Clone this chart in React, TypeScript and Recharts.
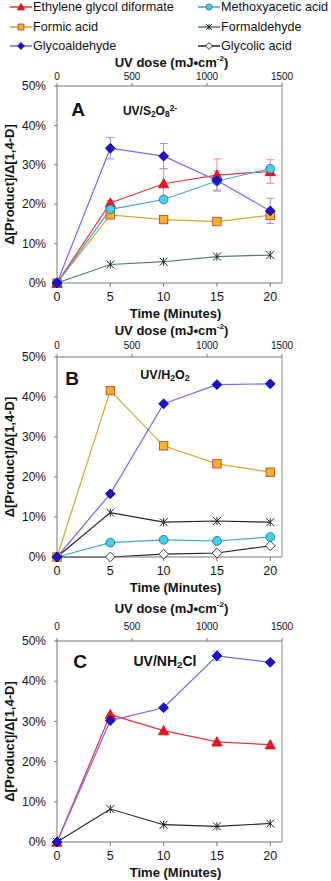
import React from 'react';
import { LineChart, Line, XAxis, YAxis, ReferenceLine, ErrorBar } from 'recharts';

// time points (min) and axis ticks
const TIME = [0, 5, 10, 15, 20];
const DOSE_TICKS = [0, 500, 1000, 1500];
const PCT_TICKS = [0, 10, 20, 30, 40, 50];
const TIME_MAX = 21.1; // right edge of the plots
const DOSE_RATE = 1500 / TIME_MAX; // mJ/cm2 per minute, top axis

// Panel A: UV/S2O8 2-
const A_FORMALD = [0, 4.7, 5.4, 6.7, 7.1];
const A_FORMIC = [0, 17.3, 16.1, 15.6, 17.2];
const A_EGD = [0, 20.3, 25.2, 27.4, 28.3];
const A_EGD_ERR = [0, 0.6, 3.8, 4.1, 3.0];
const A_METHOXY = [0, 18.7, 21.2, 25.9, 29.0];
const A_GLYCOALD = [0, 34.2, 32.2, 26.0, 18.3];
const A_GLYCOALD_ERR = [0, 2.7, 3.2, 2.4, 3.2];

// Panel B: UV/H2O2
const B_GLYCOLIC = [0, 0, 0.7, 1.0, 2.8];
const B_METHOXY = [0, 3.6, 4.3, 4.0, 5.0];
const B_FORMALD = [0, 11.1, 8.7, 9.0, 8.7];
const B_FORMIC = [0, 41.6, 27.8, 23.3, 21.2];
const B_GLYCOALD = [0, 15.8, 38.3, 43.1, 43.3];

// Panel C: UV/NH2Cl
const C_FORMALD = [0, 8.2, 4.3, 3.9, 4.6];
const C_EGD = [0, 31.7, 27.7, 24.9, 24.2];
const C_GLYCOALD = [0, 30.2, 33.4, 46.3, 44.7];
const C_GLYCOALD_ERR = [0, 0, 0, 1.2, 0];

const STYLE: Record<string, { name: string; line: string; marker: string }> = {
  egd: { name: 'Ethylene glycol diformate', line: '#e3343c', marker: 'triangle' },
  methoxy: { name: 'Methoxyacetic acid', line: '#3fa2e0', marker: 'circle' },
  formic: { name: 'Formic acid', line: '#d6a42c', marker: 'square' },
  formald: { name: 'Formaldehyde', line: '#4d7a6c', marker: 'star' },
  glycoald: { name: 'Glycoaldehyde', line: '#7d62f2', marker: 'diamond' },
  glycolic: { name: 'Glycolic acid', line: '#222222', marker: 'open' }
};

const LEGEND_ROWS = [
  ['egd', 'methoxy'],
  ['formic', 'formald'],
  ['glycoald', 'glycolic']
];

const FONT = "'Liberation Sans', Arial, sans-serif";

function Marker({ kind, cx, cy, k = 1 }: any) {
  if (cx == null || cy == null) return null;
  if (kind === 'triangle') {
    const s = 5.2 * k;
    return <polygon points={`${cx},${cy - s} ${cx + s},${cy + s * 0.8} ${cx - s},${cy + s * 0.8}`} fill="#ec1620" stroke="#c0101a" strokeWidth={0.8} />;
  }
  if (kind === 'circle') {
    return <circle cx={cx} cy={cy} r={4.4 * k} fill="#41d3ea" stroke="#2d6f8c" strokeWidth={0.9} />;
  }
  if (kind === 'square') {
    const s = 4.2 * k;
    return <rect x={cx - s} y={cy - s} width={s * 2} height={s * 2} fill="#f6b328" stroke="#b04a3a" strokeWidth={0.9} />;
  }
  if (kind === 'diamond' || kind === 'open') {
    const s = 4.9 * k;
    return (
      <polygon
        points={`${cx},${cy - s} ${cx + s},${cy} ${cx},${cy + s} ${cx - s},${cy}`}
        fill={kind === 'open' ? '#ffffff' : '#1a12d8'}
        stroke={kind === 'open' ? '#222' : '#0c0c50'}
        strokeWidth={0.9} />);

  }
  const s = 4 * k;
  return (
    <g stroke="#222" strokeWidth={1}>
      <line x1={cx - s} y1={cy - s} x2={cx + s} y2={cy + s} />
      <line x1={cx - s} y1={cy + s} x2={cx + s} y2={cy - s} />
      <line x1={cx} y1={cy - s} x2={cx} y2={cy + s} />
    </g>);

}

function BottomTitle(props: any) {
  const { viewBox, dist } = props;
  const cx = viewBox.x + viewBox.width / 2 + 6;
  return (
    <text x={cx} y={viewBox.y + dist} textAnchor="middle" dominantBaseline="central" fontWeight="bold" fontSize={13} fill="#111">
      Time (Minutes)
    </text>);

}

function TopTitle(props: any) {
  const { viewBox, gap } = props;
  const cx = viewBox.x + viewBox.width / 2 + 2;
  return (
    <text x={cx} y={viewBox.y + viewBox.height - gap} textAnchor="middle" dominantBaseline="central" fontWeight="bold" fontSize={13} fill="#111">
      UV dose (mJ•cm<tspan fontSize={8} dy={-4}>-2</tspan><tspan dy={4}>)</tspan>
    </text>);

}

function YTitle(props: any) {
  const { viewBox } = props;
  const cx = 9;
  const cy = viewBox.y + viewBox.height / 2;
  return (
    <text x={cx} y={cy} transform={`rotate(-90 ${cx} ${cy})`} textAnchor="middle" dominantBaseline="central" fontWeight="bold" fontSize={13} fill="#111">
      Δ[Product]/Δ[1,4-D]
    </text>);

}

type Series = { key: string; values: number[]; err?: number[]; errColor?: string; line?: string };

function buildRows(series: Series[]) {
  return TIME.map((t, i) => {
    const r: any = { t };
    series.forEach((s) => {
      r[s.key] = s.values[i];
      if (s.err) r[s.key + 'Err'] = s.err[i];
    });
    return r;
  });
}

function Panel({ plotTop, titleGap, topGap, plotH, series, letter, letterPos, cond, condPos, condSize }: any) {
  const topH = titleGap + 12;
  const bottomH = 38;
  const top = plotTop - topH;
  const height = topH + plotH + bottomH;
  const rows = buildRows(series);
  return (
    <div style={{ position: 'absolute', left: 0, top, width: 331, height }}>
      <LineChart width={331} height={height} data={rows} margin={{ top: 0, right: 49, bottom: 0, left: 0 }}>
        <XAxis
          xAxisId="top"
          type="number"
          dataKey="t"
          orientation="top"
          domain={[0, TIME_MAX]}
          ticks={DOSE_TICKS.map((d) => d / DOSE_RATE)}
          tickFormatter={(v) => `${Math.round(v * DOSE_RATE)}`}
          interval={0}
          height={topH}
          stroke="#777"
          tickSize={3}
          tickMargin={topGap}
          tick={{ fill: '#111', fontSize: 10 }}
          label={<TopTitle gap={titleGap} />} />

        <XAxis
          xAxisId="time"
          type="number"
          dataKey="t"
          orientation="bottom"
          domain={[0, TIME_MAX]}
          ticks={TIME}
          interval={0}
          height={bottomH}
          stroke="#777"
          tickSize={4}
          tickMargin={5}
          tick={{ fill: '#111', fontSize: 12.5 }}
          label={<BottomTitle dist={30} />} />

        <YAxis
          type="number"
          domain={[0, 50]}
          ticks={PCT_TICKS}
          width={57}
          stroke="#777"
          tickSize={3}
          tickMargin={8}
          tick={{ fill: '#111', fontSize: 12 }}
          tickFormatter={(v) => `${v}%`}
          label={<YTitle />} />

        <ReferenceLine xAxisId="time" x={TIME_MAX} stroke="#888" />
        {/* invisible copy so the top (dose) axis gets a scale */}
        <Line xAxisId="top" dataKey={series[0].key} stroke="none" dot={false} activeDot={false} isAnimationActive={false} legendType="none" />
        {series.map((s: Series) =>
        <Line
          key={s.key}
          xAxisId="time"
          dataKey={s.key}
          stroke={s.line ?? STYLE[s.key].line}
          strokeWidth={1.2}
          activeDot={false}
          isAnimationActive={false}
          dot={(p: any) => <Marker key={`${s.key}-${p.index}`} kind={STYLE[s.key].marker} cx={p.cx} cy={p.cy} />}>

            {s.err &&
          <ErrorBar dataKey={s.key + 'Err'} direction="y" width={4} stroke={s.errColor} strokeWidth={1} isAnimationActive={false} />
          }
          </Line>
        )}
      </LineChart>
      <div style={{ position: 'absolute', left: letterPos[0], top: letterPos[1] - top, transform: 'translate(-50%,-50%)', fontSize: 19, fontWeight: 'bold', lineHeight: 1 }}>
        {letter}
      </div>
      <div style={{ position: 'absolute', left: condPos[0], top: condPos[1] - top, transform: 'translate(-50%,-50%)', fontSize: condSize, fontWeight: 'bold', lineHeight: 1, whiteSpace: 'nowrap' }}>
        {cond}
      </div>
    </div>);

}

const subStyle: React.CSSProperties = { fontSize: '0.7em', verticalAlign: '-0.25em', lineHeight: 0 };
const supStyle: React.CSSProperties = { fontSize: '0.7em', verticalAlign: '0.5em', lineHeight: 0 };

export default function App() {
  return (
    <div style={{ position: 'absolute', left: 0, top: 0, width: 331, height: 881, background: '#fff', fontFamily: FONT, color: '#111' }}>
      {LEGEND_ROWS.map((row, ri) =>
      row.map((key, ci) =>
      <div
        key={key}
        style={{ position: 'absolute', left: ci === 0 ? 9 : 197, top: 7 + ri * 19.5, transform: 'translateY(-50%)', display: 'flex', alignItems: 'center', fontSize: 12.6, whiteSpace: 'nowrap' }}>

            <svg width={24} height={12}>
              <line x1={1} y1={6} x2={23} y2={6} stroke={STYLE[key].line} strokeWidth={1.5} />
              <Marker kind={STYLE[key].marker} cx={12} cy={6} k={0.7} />
            </svg>
            <span>{STYLE[key].name}</span>
          </div>
      )
      )}

      <Panel
        plotTop={86}
        titleGap={24}
        topGap={3}
        plotH={197}
        letter="A"
        letterPos={[78, 109]}
        cond={<span>UV/S<sub style={subStyle}>2</sub>O<sub style={subStyle}>8</sub><sup style={supStyle}>2-</sup></span>}
        condPos={[150, 111]}
        condSize={12}
        series={[
        { key: 'formald', values: A_FORMALD },
        { key: 'formic', values: A_FORMIC },
        { key: 'egd', values: A_EGD, err: A_EGD_ERR, errColor: '#ee8a8a' },
        { key: 'methoxy', values: A_METHOXY },
        { key: 'glycoald', values: A_GLYCOALD, err: A_GLYCOALD_ERR, errColor: '#9d8ff6' }]
        } />

      <Panel
        plotTop={357}
        titleGap={27}
        topGap={5}
        plotH={200}
        letter="B"
        letterPos={[72, 378]}
        cond={<span>UV/H<sub style={subStyle}>2</sub>O<sub style={subStyle}>2</sub></span>}
        condPos={[165, 375]}
        condSize={12.5}
        series={[
        { key: 'glycolic', values: B_GLYCOLIC },
        { key: 'methoxy', values: B_METHOXY },
        { key: 'formald', values: B_FORMALD, line: '#222' },
        { key: 'formic', values: B_FORMIC },
        { key: 'glycoald', values: B_GLYCOALD }]
        } />

      <Panel
        plotTop={641}
        titleGap={33}
        topGap={8}
        plotH={201}
        letter="C"
        letterPos={[80, 661]}
        cond={<span>UV/NH<sub style={subStyle}>2</sub>Cl</span>}
        condPos={[165, 661]}
        condSize={14}
        series={[
        { key: 'formald', values: C_FORMALD, line: '#222' },
        { key: 'egd', values: C_EGD },
        { key: 'glycoald', values: C_GLYCOALD, err: C_GLYCOALD_ERR, errColor: '#9d8ff6' }]
        } />

    </div>);

}
